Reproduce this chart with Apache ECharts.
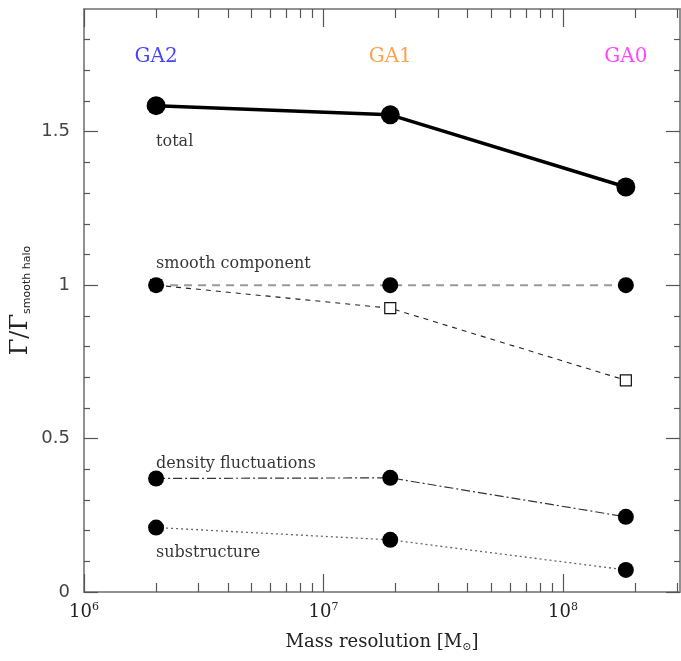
<!DOCTYPE html>
<html>
<head>
<meta charset="utf-8">
<script src="https://cdn.jsdelivr.net/npm/echarts@6/dist/echarts.min.js"></script>
<style>html,body{margin:0;padding:0;background:#fff}#c{width:681px;height:661px}</style>
</head>
<body>
<div id="c"></div>
<script>
// ---- data ----
const massRes = [2.0e6, 1.9e7, 1.83e8];
const simLabels = ['GA2', 'GA1', 'GA0'];
const simColors = ['#1515f5', '#ff8a1e', '#ff18ff'];
const simLabelY = 1.745;
const total = [1.585, 1.555, 1.32];
const smooth = [1.0, 1.0, 1.0];
const smoothSquares = [1.0, 0.925, 0.69];
const density = [0.37, 0.372, 0.245];
const substructure = [0.21, 0.17, 0.072];
const curveNames = ['total', 'smooth component', 'density fluctuations', 'substructure'];
const curveNameY = [1.466, 1.068, 0.418, 0.128];
const xMajorTicks = [1e6, 1e7, 1e8];
const xMinorTicks = [2e6,3e6,4e6,5e6,6e6,7e6,8e6,9e6,2e7,3e7,4e7,5e7,6e7,7e7,8e7,9e7,2e8,3e8];
const yMajorTicks = [0, 0.5, 1, 1.5];
const yMinorTicks = [0.1,0.2,0.3,0.4,0.6,0.7,0.8,0.9,1.1,1.2,1.3,1.4,1.6,1.7,1.8];

const XMIN = 1e6, XMAX = 3.08e8, YMIN = 0, YMAX = 1.9;
const frame = '#8a8a8a';
const font = 'DejaVu Serif';

function pairs(xs, ys) { return xs.map((x, i) => [x, ys[i]]); }

function xAxisDef(pos, ticks, len, labels) {
  return {
    type: 'log', logBase: 10, min: XMIN, max: XMAX, position: pos,
    axisLine: { show: true, onZero: false, lineStyle: { color: frame, width: 1.5 } },
    axisTick: { show: true, inside: true, length: len, customValues: ticks, lineStyle: { color: '#555', width: 1.2 } },
    axisLabel: labels ? {
      show: true, customValues: xMajorTicks, margin: 10, color: '#222', fontFamily: font, fontSize: 18,
      formatter: v => '10{sup|' + Math.round(Math.log10(v)) + '}',
      rich: { sup: { fontSize: 11, fontFamily: font, color: '#222', verticalAlign: 'top', padding: [0, 0, 10, 0] } }
    } : { show: false },
    splitLine: { show: false }, minorTick: { show: false }, minorSplitLine: { show: false },
    name: labels ? 'Mass resolution [M{sub|⊙}]' : '',
    nameLocation: 'middle', nameGap: 40,
    nameTextStyle: { fontFamily: font, fontSize: 18, color: '#222',
      rich: { sub: { fontSize: 11, fontFamily: font, color: '#222', padding: [10, 0, 0, 0] } } }
  };
}
function yAxisDef(pos, ticks, len, labels) {
  return {
    type: 'value', min: YMIN, max: YMAX, position: pos,
    axisLine: { show: true, onZero: false, lineStyle: { color: frame, width: 1.5 } },
    axisTick: { show: true, inside: true, length: len, customValues: ticks, lineStyle: { color: '#555', width: 1.2 } },
    axisLabel: labels ? {
      show: true, customValues: yMajorTicks, margin: 14, color: '#444', fontFamily: 'DejaVu Sans', fontSize: 18,
      formatter: v => String(v)
    } : { show: false },
    splitLine: { show: false },
    name: labels ? '{g|Γ/Γ}{s|smooth halo}' : '',
    nameLocation: 'middle', nameGap: 51, nameRotate: 90, nameMoveOverlap: false,
    nameTextStyle: { color: '#222',
      rich: { g: { fontSize: 24, fontFamily: font, color: '#222' },
              s: { fontSize: 11, fontFamily: 'DejaVu Sans', color: '#222', padding: [14, 0, 0, 0] } } }
  };
}

const circle = (size) => ({ symbol: 'circle', symbolSize: size, itemStyle: { color: '#000' } });

const option = {
  backgroundColor: '#fff',
  animation: false,
  grid: { left: 84, right: 1, top: 9, bottom: 69, show: false, outerBoundsMode: 'none', containLabel: false },
  xAxis: [
    xAxisDef('bottom', xMajorTicks, 18, true),
    xAxisDef('bottom', xMinorTicks, 9, false),
    xAxisDef('top', xMajorTicks, 18, false),
    xAxisDef('top', xMinorTicks, 9, false)
  ],
  yAxis: [
    yAxisDef('left', yMajorTicks, 14, true),
    yAxisDef('left', yMinorTicks, 6, false),
    yAxisDef('right', yMajorTicks, 14, false),
    yAxisDef('right', yMinorTicks, 6, false)
  ],
  series: [
    { type: 'line', name: 'smooth-squares', data: pairs(massRes, smoothSquares),
      symbol: 'rect', symbolSize: 11, itemStyle: { color: '#fff', borderColor: '#111', borderWidth: 1.2 },
      lineStyle: { color: '#222', width: 1.1, type: [5, 5] }, z: 3 },
    { type: 'line', name: 'smooth', data: pairs(massRes, smooth), ...circle(16),
      lineStyle: { color: '#999', width: 2, type: [8, 6] }, z: 4 },
    { type: 'line', name: 'total', data: pairs(massRes, total), ...circle(19),
      lineStyle: { color: '#000', width: 3.5 }, z: 5 },
    { type: 'line', name: 'density', data: pairs(massRes, density), ...circle(16),
      lineStyle: { color: '#333', width: 1.2, type: [9, 3, 2, 3] }, z: 4 },
    { type: 'line', name: 'substructure', data: pairs(massRes, substructure), ...circle(16),
      lineStyle: { color: '#666', width: 1.3, type: [2, 3] }, z: 4 },
    { type: 'scatter', name: 'sims', symbolSize: 0, silent: true,
      data: massRes.map((x, i) => ({ value: [x, simLabelY], label: { color: simColors[i] } })),
      label: { show: true, position: 'inside', fontFamily: font, fontSize: 20,
        formatter: p => simLabels[p.dataIndex] },
      z: 6 },
    { type: 'scatter', name: 'curve labels', symbolSize: 0, silent: true,
      data: curveNameY.map(y => [massRes[0], y]),
      label: { show: true, position: 'right', distance: 0, fontFamily: font, fontSize: 16, color: '#000',
        formatter: p => curveNames[p.dataIndex] },
      z: 6 }
  ]
};

const chart = echarts.init(document.getElementById('c'), null, { renderer: 'canvas' });
chart.setOption(option);
</script>
</body>
</html>
